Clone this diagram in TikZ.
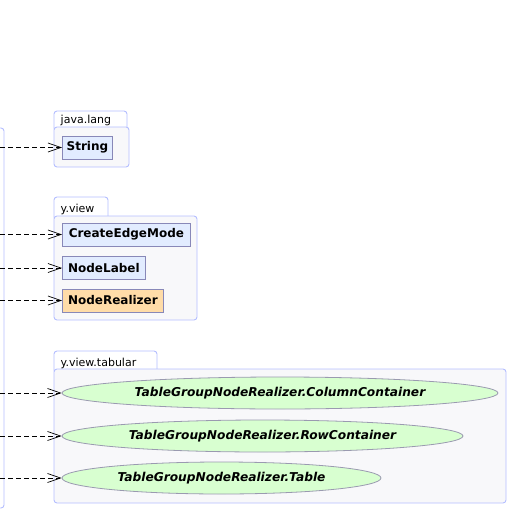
\documentclass[tikz,border=0pt]{standalone}
\usepackage{fontspec}
\setmainfont{DejaVu Sans}
\usetikzlibrary{shapes.geometric,arrows.meta}
\definecolor{pkgborder}{HTML}{B4BEFF}
\definecolor{pkgfill}{HTML}{F8F8FA}
\definecolor{clsfill}{HTML}{E2ECFF}
\definecolor{clsborder}{HTML}{8888B8}
\definecolor{orgfill}{HTML}{FFDCA8}
\definecolor{ellfill}{HTML}{D8FFD0}
\definecolor{ellborder}{HTML}{9A9AB0}
\tikzset{
  pkg/.style={draw=pkgborder, fill=pkgfill, rounded corners=3pt, line width=0.9pt},
  pkgtab/.style={draw=pkgborder, fill=white, rounded corners=3pt, line width=0.9pt},
  tablabel/.style={anchor=base west, font=\fontsize{11}{13}\selectfont, inner sep=0pt},
  cls/.style={draw=clsborder, fill=clsfill, line width=0.8pt, font=\bfseries\fontsize{12}{14}\selectfont, minimum height=23pt, inner sep=0pt, anchor=west},
  ell/.style={ellipse, draw=ellborder, fill=ellfill, line width=0.8pt, inner sep=0pt, font=\bfseries\itshape\fontsize{12.2}{14}\selectfont, minimum height=32pt},
  dep/.style={dashed, dash pattern=on 5pt off 3pt, line width=0.7pt, -{Straight Barb[length=13pt,width=9pt]}}
}
\begin{document}
\begin{tikzpicture}[x=1pt,y=-1pt]
\useasboundingbox (0,0) rectangle (509,514);
\begin{scope}
\clip (0,0) rectangle (509,514);
% left container
\draw[draw=pkgborder, rounded corners=3pt, line width=0.9pt] (-30,128) rectangle (4,508);
\end{scope}
% java.lang
\draw[pkgtab] (54,111) rectangle (127,131);
\draw[pkg] (54,127) rectangle (129,167);
\node[tablabel] (tjl) at (60.5,123.5) {java.lang};
% y.view
\draw[pkgtab] (54,197) rectangle (108,220);
\draw[pkg] (54,216) rectangle (197,320);
\node[tablabel] (tyv) at (60.5,212) {y.view};
% y.view.tabular
\draw[pkgtab] (54,351) rectangle (157,373);
\draw[pkg] (54,369) rectangle (506,503);
\node[tablabel] (tyvt) at (60.5,366) {y.view.tabular};
% classes
\node[cls, minimum width=50pt] (str) at (62,147.5) {String};
\node[cls, minimum width=128pt] (cem) at (62,234.5) {CreateEdgeMode};
\node[cls, minimum width=83pt] (nl) at (62,268) {NodeLabel};
\node[cls, minimum width=101pt, fill=orgfill] (nr) at (62,300.5) {NodeRealizer};
\node[ell, minimum width=436pt] (cc) at (280,393) {TableGroupNodeRealizer.ColumnContainer};
\node[ell, minimum width=401pt] (rc) at (262.5,436) {TableGroupNodeRealizer.RowContainer};
\node[ell, minimum width=319pt] (tb) at (221.5,478) {TableGroupNodeRealizer.Table};
% sources
\coordinate (s1) at (0,147.5);
\coordinate (s2) at (0,234.5);
\coordinate (s3) at (0,268);
\coordinate (s4) at (0,300.5);
\coordinate (s5) at (0,393);
\coordinate (s6) at (0,436);
\coordinate (s7) at (0,478);
\draw[dep] (s1) -- (str.west);
\draw[dep] (s2) -- (cem.west);
\draw[dep] (s3) -- (nl.west);
\draw[dep] (s4) -- (nr.west);
\draw[dep] (s5) -- (cc.west);
\draw[dep] (s6) -- (rc.west);
\draw[dep] (s7) -- (tb.west);
\end{tikzpicture}
\end{document}
